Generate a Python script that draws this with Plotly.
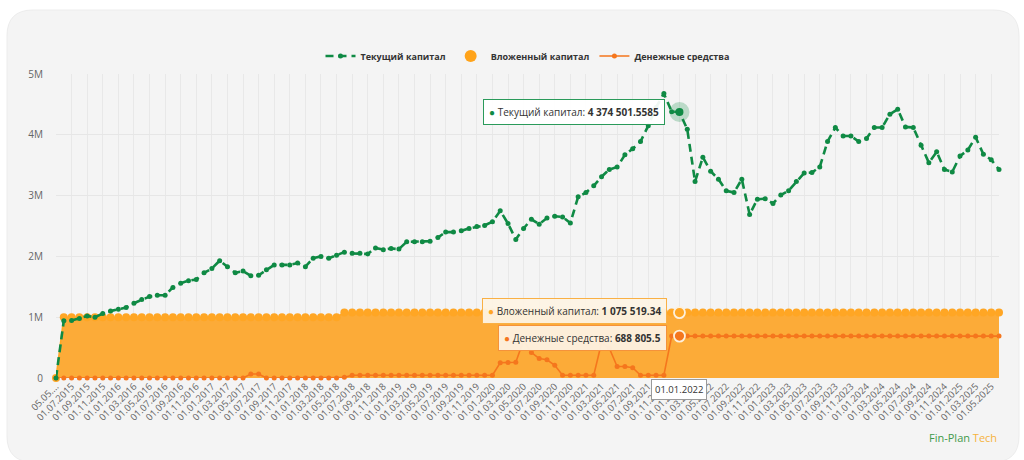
import plotly.graph_objects as go

# ---------------- data ----------------
dates = [
    "05.05.2015",
    "01.06.2015", "01.07.2015", "01.08.2015", "01.09.2015", "01.10.2015", "01.11.2015", "01.12.2015",
    "01.01.2016", "01.02.2016", "01.03.2016", "01.04.2016", "01.05.2016", "01.06.2016",
    "01.07.2016", "01.08.2016", "01.09.2016", "01.10.2016", "01.11.2016", "01.12.2016",
    "01.01.2017", "01.02.2017", "01.03.2017", "01.04.2017", "01.05.2017", "01.06.2017",
    "01.07.2017", "01.08.2017", "01.09.2017", "01.10.2017", "01.11.2017", "01.12.2017",
    "01.01.2018", "01.02.2018", "01.03.2018", "01.04.2018", "01.05.2018", "01.06.2018",
    "01.07.2018", "01.08.2018", "01.09.2018", "01.10.2018", "01.11.2018", "01.12.2018",
    "01.01.2019", "01.02.2019", "01.03.2019", "01.04.2019", "01.05.2019", "01.06.2019",
    "01.07.2019", "01.08.2019", "01.09.2019", "01.10.2019", "01.11.2019", "01.12.2019",
    "01.01.2020", "01.02.2020", "01.03.2020", "01.04.2020", "01.05.2020", "01.06.2020",
    "01.07.2020", "01.08.2020", "01.09.2020", "01.10.2020", "01.11.2020", "01.12.2020",
    "01.01.2021", "01.02.2021", "01.03.2021", "01.04.2021", "01.05.2021", "01.06.2021",
    "01.07.2021", "01.08.2021", "01.09.2021", "01.10.2021", "01.11.2021", "01.12.2021",
    "01.01.2022", "01.02.2022", "01.03.2022", "01.04.2022", "01.05.2022", "01.06.2022",
    "01.07.2022", "01.08.2022", "01.09.2022", "01.10.2022", "01.11.2022", "01.12.2022",
    "01.01.2023", "01.02.2023", "01.03.2023", "01.04.2023", "01.05.2023", "01.06.2023",
    "01.07.2023", "01.08.2023", "01.09.2023", "01.10.2023", "01.11.2023", "01.12.2023",
    "01.01.2024", "01.02.2024", "01.03.2024", "01.04.2024", "01.05.2024", "01.06.2024",
    "01.07.2024", "01.08.2024", "01.09.2024", "01.10.2024", "01.11.2024", "01.12.2024",
    "01.01.2025", "01.02.2025", "01.03.2025", "01.04.2025", "01.05.2025", "01.06.2025",
]

current_capital = [
    0, 940000, 945000, 980000, 1020000, 1000000, 1060000, 1100000,
    1130000, 1160000, 1230000, 1290000, 1340000, 1360000,
    1360000, 1490000, 1560000, 1600000, 1620000, 1730000,
    1800000, 1930000, 1830000, 1730000, 1760000, 1680000,
    1690000, 1780000, 1860000, 1860000, 1860000, 1890000,
    1830000, 1970000, 2000000, 1970000, 2020000, 2070000,
    2050000, 2050000, 2040000, 2140000, 2110000, 2130000,
    2120000, 2240000, 2240000, 2240000, 2250000, 2310000,
    2400000, 2400000, 2420000, 2460000, 2490000, 2510000,
    2570000, 2750000, 2540000, 2280000, 2460000, 2610000,
    2530000, 2630000, 2660000, 2650000, 2550000, 2980000,
    3050000, 3160000, 3310000, 3430000, 3470000, 3670000,
    3770000, 3890000, 4150000, 4450000, 4680000, 4380000,
    4374501.5585, 4090000, 3230000, 3630000, 3400000, 3270000,
    3080000, 3050000, 3270000, 2690000, 2940000, 2950000,
    2870000, 3010000, 3080000, 3230000, 3370000, 3380000,
    3470000, 3890000, 4120000, 3980000, 3980000, 3890000,
    3940000, 4120000, 4120000, 4340000, 4420000, 4130000,
    4120000, 3830000, 3540000, 3720000, 3430000, 3390000,
    3650000, 3750000, 3960000, 3680000, 3590000, 3430000,
]

invested_capital = [0] + [1000000] * 36 + [1075519.34] * 85

cash = [
    0, 0, 0, 0, 0, 0, 0, 0,
    0, 0, 0, 0, 0, 0,
    0, 0, 0, 0, 0, 0,
    0, 0, 0, 0, 0, 65000,
    65000, 0, 0, 0, 0, 0,
    0, 0, 0, 0, 0, 12000,
    45000, 45000, 45000, 45000, 45000, 45000,
    45000, 45000, 45000, 45000, 45000, 45000,
    45000, 45000, 45000, 45000, 45000, 45000,
    45000, 250000, 255000, 260000, 620000, 420000,
    320000, 300000, 210000, 45000, 45000, 45000,
    45000, 45000, 580000, 490000, 190000, 190000,
    170000, 45000, 45000, 45000, 45000, 688805.5,
    688805.5, 688805.5, 688805.5, 688805.5, 688805.5, 688805.5,
    688805.5, 688805.5, 688805.5, 688805.5, 688805.5, 688805.5,
    688805.5, 688805.5, 688805.5, 688805.5, 688805.5, 688805.5,
    688805.5, 688805.5, 688805.5, 688805.5, 688805.5, 688805.5,
    688805.5, 688805.5, 688805.5, 688805.5, 688805.5, 688805.5,
    688805.5, 688805.5, 688805.5, 688805.5, 688805.5, 688805.5,
    688805.5, 688805.5, 688805.5, 688805.5, 688805.5, 688805.5,
]

x_tick_vals = dates[0::2]
x_tick_text = ["05.05...."] + dates[2::2]
y_tick_vals = [0, 1000000, 2000000, 3000000, 4000000, 5000000]
y_tick_text = ["0", "1M", "2M", "3M", "4M", "5M"]

hover_date = "01.01.2022"

# ---------------- style ----------------
W, H = 1024, 460
ML, MR, MT, MB = 56, 25, 74, 82
PW, PH = W - ML - MR, H - MT - MB
FONT = "Open Sans, Noto Sans, sans-serif"
GREEN = "#0f8a44"
ORANGE_FILL = "#fcab38"
ORANGE_MARK = "#ffa624"
CASH = "#f5761d"


def pxx(x):
    return (x - ML) / PW


def pxy(y):
    return (H - MB - y) / PH


def fmt(v):
    s = str(v)
    ip, _, dp = s.partition(".")
    groups = []
    while len(ip) > 3:
        groups.insert(0, ip[-3:])
        ip = ip[:-3]
    groups.insert(0, ip)
    return " ".join(groups) + ("." + dp if dp else "")


hi = dates.index(hover_date)

fig = go.Figure()

fig.add_trace(go.Scatter(
    x=dates, y=invested_capital, mode="lines+markers", fill="tozeroy",
    fillcolor=ORANGE_FILL, line=dict(color=ORANGE_MARK, width=1.5),
    marker=dict(size=8, color=ORANGE_MARK), showlegend=False, cliponaxis=False,
    hoverinfo="skip"))
fig.add_trace(go.Scatter(
    x=dates, y=cash, mode="lines+markers", name="Денежные средства",
    line=dict(color=CASH, width=1.6), marker=dict(size=5, color=CASH),
    legendrank=3, cliponaxis=False))
fig.add_trace(go.Scatter(
    x=dates, y=current_capital, mode="lines+markers", name="Текущий капитал",
    line=dict(color=GREEN, width=2.6, dash="8px,5px"),
    marker=dict(size=5, color=GREEN), legendrank=1, cliponaxis=False))
fig.add_trace(go.Scatter(
    x=[None], y=[None], mode="markers", name="Вложенный капитал",
    marker=dict(size=12, color="#ffa31a"), legendrank=2))

# hover highlights
fig.add_trace(go.Scatter(
    x=[dates[hi]], y=[current_capital[hi]], mode="markers", showlegend=False,
    marker=dict(size=20, color="rgba(15,138,68,0.25)"), cliponaxis=False))
fig.add_trace(go.Scatter(
    x=[dates[hi]], y=[current_capital[hi]], mode="markers", showlegend=False,
    marker=dict(size=8, color=GREEN), cliponaxis=False))
fig.add_trace(go.Scatter(
    x=[dates[hi], dates[hi]], y=[invested_capital[hi], cash[hi]], mode="markers",
    showlegend=False, cliponaxis=False,
    marker=dict(size=11, color=[ORANGE_MARK, CASH], line=dict(color="#fdf0dc", width=1.8))))

# card background (rounded rectangle)
x0, y0, x1, y1, r = 7, 10, 1019, 462, 26
path = (
    f"M {pxx(x0 + r)},{pxy(y0)} L {pxx(x1 - r)},{pxy(y0)} "
    f"Q {pxx(x1)},{pxy(y0)} {pxx(x1)},{pxy(y0 + r)} "
    f"L {pxx(x1)},{pxy(y1 - r)} Q {pxx(x1)},{pxy(y1)} {pxx(x1 - r)},{pxy(y1)} "
    f"L {pxx(x0 + r)},{pxy(y1)} Q {pxx(x0)},{pxy(y1)} {pxx(x0)},{pxy(y1 - r)} "
    f"L {pxx(x0)},{pxy(y0 + r)} Q {pxx(x0)},{pxy(y0)} {pxx(x0 + r)},{pxy(y0)} Z"
)
fig.add_shape(type="path", path=path, xref="paper", yref="paper",
              fillcolor="#f4f4f4", line=dict(color="#ececec", width=1), layer="below")

# tooltips
tip_font = dict(family=FONT, size=10, color="#333333")
fig.add_annotation(
    x=dates[hi], y=current_capital[hi], xref="x", yref="y", showarrow=False,
    xanchor="right", yanchor="middle", xshift=-14,
    text=f"<span style='color:{GREEN}'>●</span> Текущий капитал: <b>{fmt(current_capital[hi])}</b>",
    font=tip_font, bgcolor="rgba(255,255,255,0.93)", bordercolor="#2a9a5a",
    borderwidth=1, borderpad=5)
fig.add_annotation(
    x=dates[hi], y=invested_capital[hi], xref="x", yref="y", showarrow=False,
    xanchor="right", yanchor="middle", xshift=-12, yshift=2,
    text=f"<span style='color:{ORANGE_MARK}'>●</span> Вложенный капитал: <b>{fmt(invested_capital[hi])}</b>",
    font=tip_font, bgcolor="rgba(253,243,228,0.95)", bordercolor="#f9b045",
    borderwidth=1, borderpad=5)
fig.add_annotation(
    x=dates[hi], y=cash[hi], xref="x", yref="y", showarrow=False,
    xanchor="right", yanchor="middle", xshift=-12, yshift=-1.5,
    text=f"<span style='color:{CASH}'>●</span> Денежные средства: <b>{fmt(cash[hi])}</b>",
    font=tip_font, bgcolor="rgba(253,241,226,0.95)", bordercolor="#f5923a",
    borderwidth=1, borderpad=5)
fig.add_annotation(
    x=dates[hi], y=0, xref="x", yref="paper", showarrow=False,
    xanchor="center", yanchor="top", yshift=-1,
    text=hover_date, font=dict(family=FONT, size=9.5, color="#333333"),
    bgcolor="#ffffff", bordercolor="#9a9a9a", borderwidth=1, borderpad=3)

# brand
fig.add_annotation(
    x=pxx(999), y=pxy(437), xref="paper", yref="paper", showarrow=False,
    xanchor="right", yanchor="middle",
    text="<span style='color:#3f9a4a'>Fin-Plan</span> <span style='color:#f6b33c'>Tech</span>",
    font=dict(family=FONT, size=11))

fig.update_layout(
    width=W, height=H,
    margin=dict(l=ML, r=MR, t=MT, b=MB),
    paper_bgcolor="#ffffff", plot_bgcolor="rgba(0,0,0,0)",
    font=dict(family=FONT, color="#666666"),
    showlegend=True,
    legend=dict(orientation="h", x=0.5, xanchor="center", y=pxy(56), yanchor="middle",
                font=dict(family=FONT, size=9, color="#333333", weight="bold"),
                bgcolor="rgba(0,0,0,0)", itemwidth=30),
    hovermode=False,
)
fig.update_xaxes(
    type="category", categoryorder="array", categoryarray=dates,
    range=[0, len(dates) - 1], tickmode="array", tickvals=x_tick_vals,
    ticktext=x_tick_text, tickangle=-45, tickfont=dict(family=FONT, size=9.5, color="#666666"),
    showgrid=True, gridcolor="#e8e8e8", gridwidth=1, zeroline=False, showline=False,
    ticks="", automargin=False)
fig.update_yaxes(
    range=[0, 5000000], tickmode="array", tickvals=y_tick_vals, ticktext=y_tick_text,
    tickfont=dict(family=FONT, size=10, color="#666666"), showgrid=True,
    gridcolor="#e6e6e6", gridwidth=1, zeroline=False, showline=False,
    ticks="outside", ticklen=10, tickcolor="rgba(0,0,0,0)", automargin=False)

fig.write_html("out.html")
